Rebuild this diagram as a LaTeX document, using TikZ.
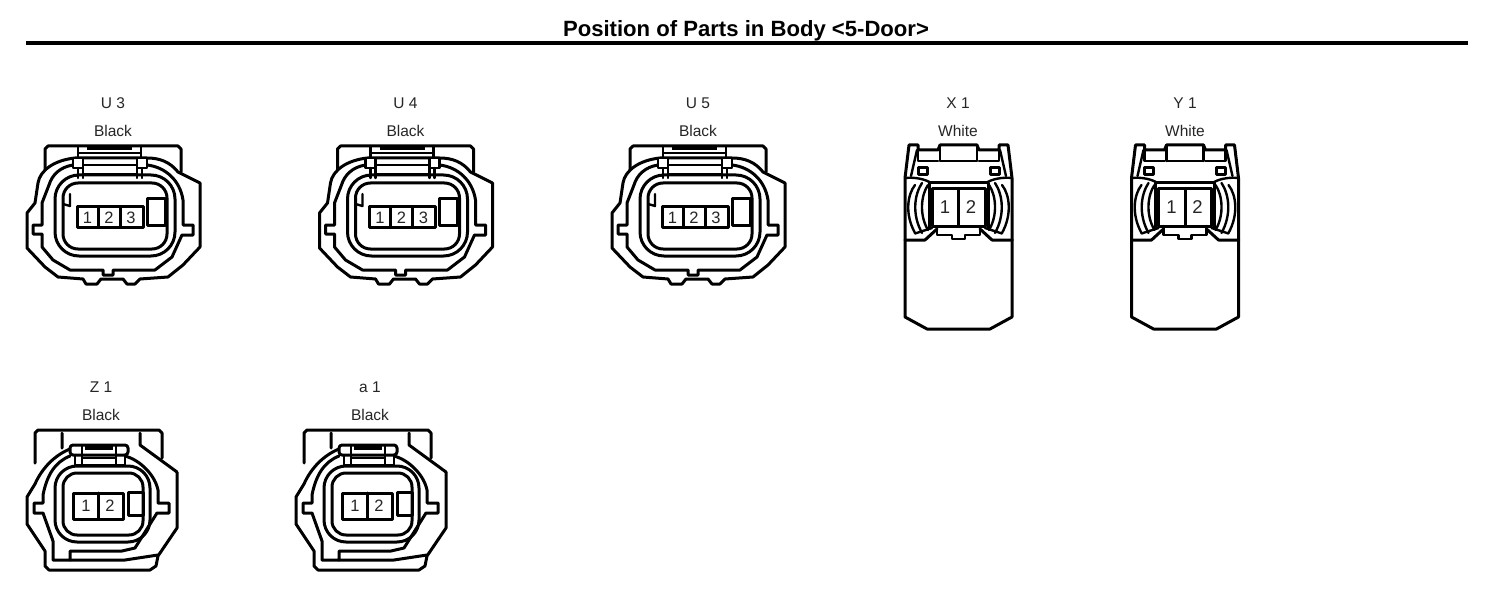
\documentclass[tikz,border=0pt]{standalone}
\usepackage{fontspec}
\setmainfont{Liberation Sans}
\tikzset{
  main/.style={line width=3pt,line join=round,line cap=round},
  thin part/.style={line width=2.4pt,line join=round,line cap=round},
  label text/.style={font=\fontsize{15.5}{17}\selectfont,inner sep=0pt,text=black!85},
  pin text/.style={font=\fontsize{16.5}{18}\selectfont,inner sep=0pt,text=black!85},
  big pin text/.style={font=\fontsize{18.5}{20}\selectfont,inner sep=0pt,text=black!85},
  ublock/.pic={
    \draw[main] (45,170) -- (45,149) -- (48,146) -- (178,146) -- (181,149) -- (181,172);
    \draw[main] (75,158) .. controls (55,160) and (40,170) .. (38,183) -- (35,203) -- (27,213) -- (27,248) -- (45,267) -- (58,277) -- (83,279) -- (86,284) -- (97,284) -- (101,279) -- (123,279) -- (127,284) -- (135,284) -- (140,279) -- (168,277) -- (183,265) -- (200,247) -- (200,183) -- (178,172) .. controls (170,162) and (160,158) .. (147,158) -- cycle;
    \draw[main] (73,165) .. controls (60,167) and (52,175) .. (49,185) -- (42,203) -- (42,225) -- (33,225) -- (33,234) -- (42,234) -- (42,247) -- (53,260) -- (70,270) -- (103,270) -- (103,275) -- (113,275) -- (113,270) -- (155,270) -- (172,257) -- (182,235) -- (193,235) -- (193,225) -- (183,225) -- (183,200) .. controls (180,180) and (165,167) .. (147,165);
    \draw[main,rounded corners=24pt] (55,175) rectangle (175,256);
    \draw[main,rounded corners=15pt] (63,183) rectangle (167,249);
    \draw[thin part] (70,194) -- (70,206) -- (63,204);
    \draw[thin part] (78,146) -- (78,158) (141,146) -- (141,158);
    \draw[thin part] (78,153) -- (141,153);
    \draw[line width=3.5pt] (87,148.5) -- (132,148.5);
    \filldraw[thin part,fill=white] (73,158) rectangle (83,168) (137,158) rectangle (147,168);
    \draw[thin part] (83,158) -- (137,158) (83,165) -- (137,165) (83,174) -- (137,174);
    \draw[thin part] (78,168) -- (78,178) (83,168) -- (83,178) (137,168) -- (137,178) (142,168) -- (142,178);
    \draw[main] (147,199) rectangle (165,225);
    \draw[main] (77,207) rectangle (143,227) (98,207) -- (98,227) (120,207) -- (120,227);
    \node[pin text] (-p1) at (87.5,217.5) {1};
    \node[pin text] (-p2) at (109,217.5) {2};
    \node[pin text] (-p3) at (131,217.5) {3};
  },
  xside/.pic={
    \draw[thin part] (915,185) .. controls (907,195) and (905,215) .. (915,233);
    \draw[thin part] (922,183) .. controls (914,195) and (912,215) .. (922,233);
    \draw[thin part] (928,185) .. controls (921,195) and (919,215) .. (928,230);
    \draw[thin part] (915,233.5) -- (932,228);
    \draw[thin part] (905,178) .. controls (915,177) and (925,179) .. (931,183);
    \draw[thin part] (917,150) -- (911,176);
    \draw[main] (918,168) rectangle (927,175);
    \draw[thin part] (918,150) -- (918,161) -- (938,161);
  },
  xblock/.pic={
    \draw[main] (905,240) -- (905,178) -- (909,145) -- (918,145) -- (918,150) -- (938,150) -- (940,145) -- (977,145) -- (979,150) -- (999,150) -- (999,145) -- (1008,145) -- (1012,178) -- (1012,240);
    \draw[main] (905,240) -- (905,317) -- (927,329) -- (990,329) -- (1012,317) -- (1012,240);
    \draw[main] (905,240) -- (925,240) -- (937,229) (1012,240) -- (992,240) -- (980,229);
    \pic {xside};
    \begin{scope}[xshift=1917pt,xscale=-1]\pic[transform shape] {xside};\end{scope}
    \draw[thin part] (940,145) -- (940,161) (977,145) -- (977,161) (940,161) -- (977,161);
    \draw[main] (929,183) -- (988,183) (929,183) -- (929,228) (988,183) -- (988,228);
    \draw[main] (932,189) rectangle (985,226) (958.5,189) -- (958.5,226);
    \draw[thin part] (937,226) -- (937,235) -- (952,235) -- (952,239) -- (965,239) -- (965,235) -- (980,235) -- (980,226);
    \node[big pin text] (-p1) at (945,207) {1};
    \node[big pin text] (-p2) at (971,207) {2};
  },
  zblock/.pic={
    \draw[main] (35,463) -- (35,433) -- (38,430) -- (159,430) -- (162,433) -- (162,458);
    \draw[main] (62,433) -- (62,448) (140,433) -- (140,445) -- (177,472);
    \draw[main] (70,449) .. controls (55,455) and (42,468) .. (35,484) -- (27,497) -- (27,524) -- (45,551) -- (45,566) -- (49,570) -- (150,570) -- (156,566) -- (158,556) -- (177,528) -- (177,472);
    \draw[main] (70,456) .. controls (55,462) and (47,475) .. (43,495) -- (43,503) -- (34,503) -- (34,513) -- (43,513) -- (53,541) -- (53,560) -- (70,560) -- (70,551) -- (122,551) -- (135,548) -- (157,513) -- (169,513) -- (169,503) -- (158,503) -- (158,490) .. controls (155,475) and (140,460) .. (125,456);
    \draw[main] (70,560) -- (125,560) -- (158,555);
    \draw[main,rounded corners=22pt] (55,466) rectangle (150,542);
    \draw[main,rounded corners=14pt] (63,473) rectangle (143,535);
    \filldraw[main,fill=white,rounded corners=3pt] (70,445) rectangle (128,455);
    \draw[thin part] (82,445) -- (82,455) (116,445) -- (116,455);
    \draw[line width=3.5pt] (85,448) -- (113,448);
    \draw[thin part] (82,458) -- (116,458) (75,465) -- (125,465);
    \draw[thin part] (75,455) -- (75,465) (82,455) -- (82,465) (116,455) -- (116,465) (125,455) -- (125,465);
    \draw[main] (128,492) rectangle (143,515);
    \draw[main] (73,493) rectangle (123,519) (98,493) -- (98,519);
    \node[pin text] (-p1) at (86,506) {1};
    \node[pin text] (-p2) at (110,506) {2};
  }
}
\begin{document}
\begin{tikzpicture}[x=1pt,y=-1pt]
\useasboundingbox (0,0) rectangle (1504,596);
\fill[white] (0,0) rectangle (1504,596);
\node[inner sep=0pt,font=\bfseries\fontsize{22.1}{24}\selectfont] (title) at (746,31) {Position of Parts in Body <5-Door>};
\coordinate (ruleL) at (26,43);
\coordinate (ruleR) at (1468,43);
\draw[line width=4.5pt] (ruleL) -- (ruleR);

\pic (u3) at (0,0) {ublock};
\pic (u4) at (292.5,0) {ublock};
\pic (u5) at (585,0) {ublock};
\pic (x1) at (0,0) {xblock};
\pic (y1) at (226.5,0) {xblock};
\pic (z1) at (0,0) {zblock};
\pic (a1) at (269,0) {zblock};

\node[label text] (lu3) at (113,103.5) {U 3};
\node[label text] (cu3) at (113,131) {Black};
\node[label text] (lu4) at (405.5,103.5) {U 4};
\node[label text] (cu4) at (405.5,131) {Black};
\node[label text] (lu5) at (698,103.5) {U 5};
\node[label text] (cu5) at (698,131) {Black};
\node[label text] (lx1) at (958,103.5) {X 1};
\node[label text] (cx1) at (958,131) {White};
\node[label text] (ly1) at (1185,103.5) {Y 1};
\node[label text] (cy1) at (1185,131) {White};
\node[label text] (lz1) at (101,387) {Z 1};
\node[label text] (cz1) at (101,415) {Black};
\node[label text] (la1) at (370,387) {a 1};
\node[label text] (ca1) at (370,415) {Black};
\end{tikzpicture}
\end{document}
